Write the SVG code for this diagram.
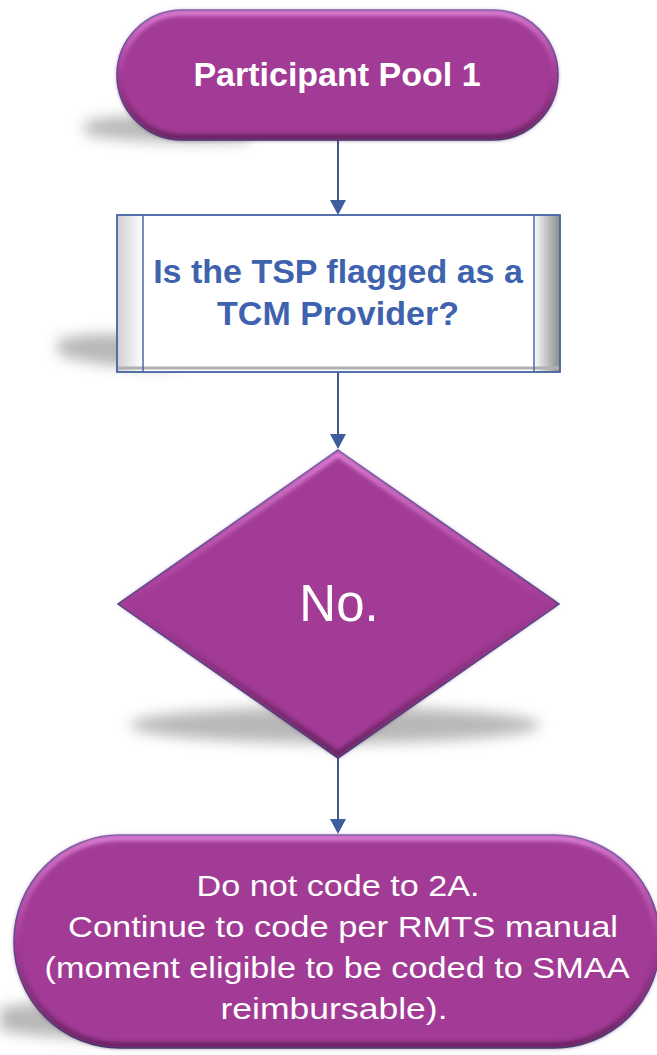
<svg xmlns="http://www.w3.org/2000/svg" width="657" height="1055" viewBox="0 0 657 1055">
<defs>
  <filter id="blur" x="-30%" y="-80%" width="160%" height="260%"><feGaussianBlur stdDeviation="7"/></filter>
  <filter id="bev" x="-5%" y="-5%" width="110%" height="110%"><feGaussianBlur stdDeviation="2"/></filter>
  <linearGradient id="hl" x1="0" y1="0" x2="0" y2="1">
    <stop offset="0" stop-color="#e48ade"/>
    <stop offset="0.5" stop-color="#a33b96"/>
    <stop offset="1" stop-color="#5e1f58"/>
  </linearGradient>
  <linearGradient id="boxedge" x1="0" y1="0" x2="1" y2="0">
    <stop offset="0" stop-color="#d0d0d0"/>
    <stop offset="0.06" stop-color="#ffffff"/>
    <stop offset="0.94" stop-color="#ffffff"/>
    <stop offset="1" stop-color="#8a8a8a"/>
  </linearGradient>
  <style>
    .shadow{fill:#9a9a9a;opacity:0.7;filter:url(#blur)}
    .purple{fill:#a23b95;stroke:#34507e;stroke-width:1.5}
    .bevel{fill:none;stroke:url(#hl);stroke-width:5;filter:url(#bev)}
    .conn{stroke:#3d5a8a;stroke-width:2;fill:none}
    .head{fill:#3d5d9e}
    .wb{font-family:"Liberation Sans",Arial,sans-serif;font-weight:bold;fill:#ffffff;text-anchor:middle}
    .bb{font-family:"Liberation Sans",Arial,sans-serif;font-weight:bold;fill:#3e62ad;text-anchor:middle}
    .wn{font-family:"Liberation Sans",Arial,sans-serif;fill:#ffffff;text-anchor:middle}
  </style>
</defs>
<rect width="657" height="1055" fill="#ffffff"/>

<g id="connectors">
  <line class="conn" x1="338" y1="140" x2="338" y2="210"/>
  <path class="head" d="M330,200 L346,200 L338,215 z"/>
  <line class="conn" x1="338" y1="372" x2="338" y2="444"/>
  <path class="head" d="M330,434 L346,434 L338,449 z"/>
  <line class="conn" x1="338" y1="758" x2="338" y2="829"/>
  <path class="head" d="M330,819 L346,819 L338,834 z"/>
</g>

<g id="start">
  <path class="shadow" d="M85,122 C120,112 200,116 250,124 L250,140 C200,144 120,142 85,134 z"/>
  <rect class="purple" x="117" y="10" width="441" height="130" rx="65" ry="65"/>
  <rect class="bevel" x="120" y="13" width="435" height="124" rx="62" ry="62"/>
  <text class="wb" x="337" y="86" font-size="34">Participant Pool 1</text>
</g>

<g id="question">
  <path class="shadow" d="M58,340 C90,330 150,334 180,342 L180,366 C150,370 90,366 58,354 z"/>
  <rect x="117" y="215" width="443" height="157" fill="url(#boxedge)" stroke="#4a68a4" stroke-width="1.5"/>
  <line x1="118" y1="368" x2="559" y2="368" stroke="#b0b0b0" stroke-width="3"/>
  <line x1="143" y1="215" x2="143" y2="372" stroke="#4a68a4" stroke-width="1.5"/>
  <line x1="534" y1="215" x2="534" y2="372" stroke="#4a68a4" stroke-width="1.5"/>
  <rect x="117" y="215" width="443" height="157" fill="none" stroke="#4a68a4" stroke-width="1.5"/>
  <text class="bb" x="338" y="283" font-size="34">Is the TSP flagged as a</text>
  <text class="bb" x="338" y="325" font-size="34">TCM Provider?</text>
</g>

<g id="decision">
  <ellipse class="shadow" cx="335" cy="725" rx="205" ry="18"/>
  <path class="purple" d="M338,450 L559,604 L338,758 L118,604 z"/>
  <path class="bevel" d="M338,454 L553,604 L338,754 L124,604 z"/>
  <text class="wn" x="339" y="621" font-size="51">No.</text>
</g>

<g id="end">
  <path class="shadow" d="M0,1008 C30,1000 80,1004 120,1012 L120,1036 C80,1040 30,1036 0,1030 z"/>
  <rect class="purple" x="14" y="835" width="646" height="213" rx="106" ry="106"/>
  <rect class="bevel" x="17" y="838" width="640" height="207" rx="103" ry="103"/>
  <text class="wn" x="338" y="896" font-size="30" textLength="283" lengthAdjust="spacingAndGlyphs">Do not code to 2A.</text>
  <text class="wn" x="343" y="937" font-size="30" textLength="550" lengthAdjust="spacingAndGlyphs">Continue to code per RMTS manual</text>
  <text class="wn" x="337" y="978" font-size="30" textLength="585" lengthAdjust="spacingAndGlyphs">(moment eligible to be coded to SMAA</text>
  <text class="wn" x="334" y="1019" font-size="30" textLength="227" lengthAdjust="spacingAndGlyphs">reimbursable).</text>
</g>
</svg>
